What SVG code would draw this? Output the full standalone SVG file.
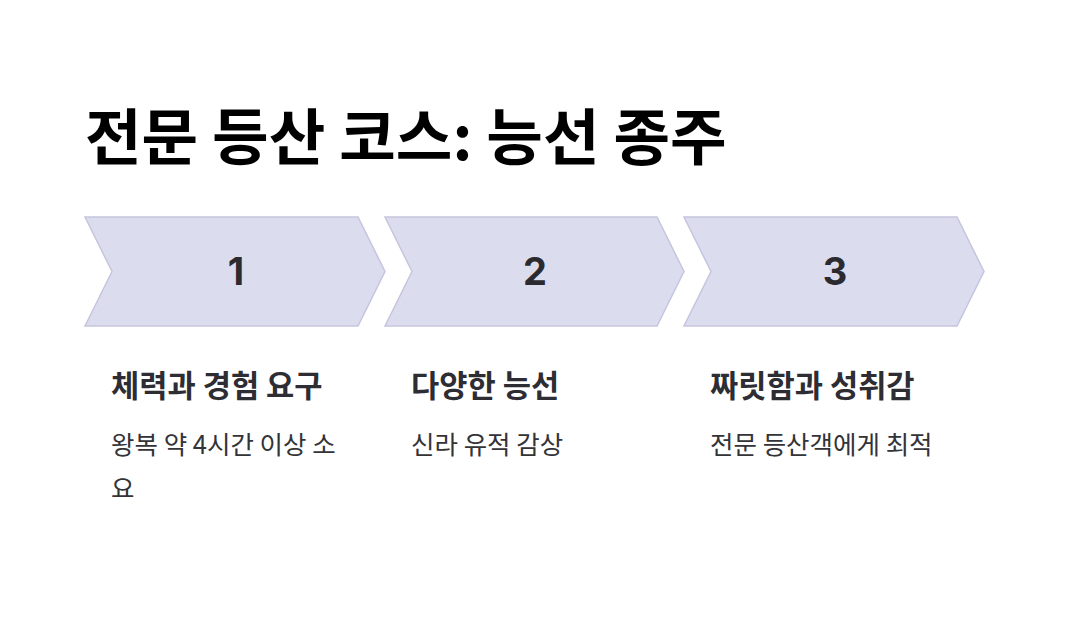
<svg xmlns="http://www.w3.org/2000/svg" width="1070" height="628" viewBox="0 0 1070 628">
<style>
.chev{fill:#dcdcef;stroke:#c5c5dd;stroke-width:1.5}
.num{font-family:"Inter","Noto Sans CJK KR",sans-serif;font-weight:700;font-size:38px;fill:#2b2b2f;text-anchor:middle}
.title{font-family:"Noto Sans CJK KR",sans-serif;font-weight:700;font-size:61.5px;fill:#000}
.head{font-family:"Noto Sans CJK KR",sans-serif;font-weight:700;font-size:30.7px;fill:#2d2d33}
.body{font-family:"Noto Sans CJK KR",sans-serif;font-size:25.5px;fill:#333338}
</style>
<rect width="1070" height="628" fill="#fff"/>
<text class="title" x="85" y="160">전문 등산 코스: 능선 종주</text>
<g id="step1">
<polygon class="chev" points="85,217 358,217 385,271.5 358,326 85,326 112,271.5"/>
<text class="num" x="236" y="285">1</text>
<text class="head" x="111" y="397">체력과 경험 요구</text>
<text class="body" x="111" y="454">왕복 약 4시간 이상 소</text>
<text class="body" x="111" y="498">요</text>
</g>
<g id="step2">
<polygon class="chev" points="385,217 657,217 684,271.5 657,326 385,326 412,271.5"/>
<text class="num" x="535" y="285">2</text>
<text class="head" x="411" y="397">다양한 능선</text>
<text class="body" x="411" y="454">신라 유적 감상</text>
</g>
<g id="step3">
<polygon class="chev" points="684,217 957,217 984,271.5 957,326 684,326 711,271.5"/>
<text class="num" x="835" y="285">3</text>
<text class="head" x="710" y="397">짜릿함과 성취감</text>
<text class="body" x="710" y="454">전문 등산객에게 최적</text>
</g>
<g id="connectors"></g>
</svg>
